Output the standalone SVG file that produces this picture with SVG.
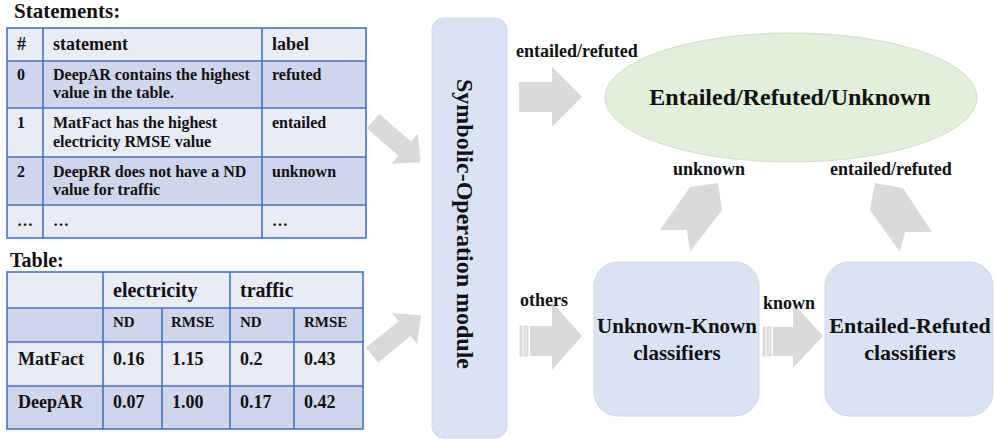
<svg xmlns="http://www.w3.org/2000/svg" width="995" height="439" viewBox="0 0 995 439">
<style>
.grid{stroke:#4472c4;stroke-width:1.6;fill:none}
.lt{fill:#e9ebf5}
.dk{fill:#cfd5ea}
.arr{fill:#d9d9d9}
.str{fill:#e4e4e4;stroke:#c4c4c4;stroke-width:0.6}
.box{fill:#dae3f3;stroke:#cfd7e6;stroke-width:1}
</style>
<g id="statements">
<text x="14" y="18" font-family="'Liberation Serif', 'Times New Roman', serif" font-weight="bold" font-size="21" fill="#111">Statements:</text>
<rect class="lt" x="7" y="28" width="359" height="33"/>
<rect class="dk" x="7" y="61" width="359" height="47"/>
<rect class="lt" x="7" y="108" width="359" height="49"/>
<rect class="dk" x="7" y="157" width="359" height="48"/>
<rect class="lt" x="7" y="205" width="359" height="33"/>
<g class="grid">
<rect x="7" y="28" width="359" height="210"/>
<path d="M7 61H366M7 108H366M7 157H366M7 205H366M43 28V238M262 28V238"/>
</g>
<g font-family="'Liberation Serif', 'Times New Roman', serif" font-weight="bold" font-size="18" fill="#111">
<text x="17" y="50">#</text>
<text x="53" y="50">statement</text>
<text x="272" y="50">label</text>
</g>
<g font-family="'Liberation Serif', 'Times New Roman', serif" font-weight="bold" font-size="16" fill="#111">
<text x="17" y="80">0</text>
<text x="53" y="80">DeepAR contains the highest</text>
<text x="53" y="98">value in the table.</text>
<text x="272" y="80">refuted</text>
<text x="17" y="128">1</text>
<text x="53" y="128">MatFact has the highest</text>
<text x="53" y="147">electricity RMSE value</text>
<text x="272" y="128">entailed</text>
<text x="17" y="177">2</text>
<text x="53" y="177">DeepRR does not have a ND</text>
<text x="53" y="195">value for traffic</text>
<text x="272" y="177">unknown</text>
<text x="17" y="226">…</text>
<text x="53" y="226">…</text>
<text x="272" y="226">…</text>
</g>
</g>

<g id="data-table">
<text x="10" y="267" font-family="'Liberation Serif', 'Times New Roman', serif" font-weight="bold" font-size="20" fill="#111">Table:</text>
<rect class="lt" x="7" y="272" width="356" height="36"/>
<rect class="dk" x="7" y="308" width="356" height="34"/>
<rect class="lt" x="7" y="342" width="356" height="44"/>
<rect class="dk" x="7" y="386" width="356" height="43"/>
<g class="grid">
<rect x="7" y="272" width="356" height="157"/>
<path d="M7 308H363M7 342H363M7 386H363M103 272V429M230 272V429M162 308V429M294 308V429"/>
</g>
<g font-family="'Liberation Serif', 'Times New Roman', serif" font-weight="bold" font-size="20" fill="#111">
<text x="113" y="297">electricity</text>
<text x="240" y="297">traffic</text>
</g>
<g font-family="'Liberation Serif', 'Times New Roman', serif" font-weight="bold" font-size="15" fill="#111">
<text x="113" y="327">ND</text>
<text x="171" y="327">RMSE</text>
<text x="240" y="327">ND</text>
<text x="304" y="327">RMSE</text>
</g>
<g font-family="'Liberation Serif', 'Times New Roman', serif" font-weight="bold" font-size="18" fill="#111">
<text x="18" y="365">MatFact</text>
<text x="113" y="365">0.16</text>
<text x="172" y="365">1.15</text>
<text x="240" y="365">0.2</text>
<text x="304" y="365">0.43</text>
<text x="18" y="408">DeepAR</text>
<text x="113" y="408">0.07</text>
<text x="172" y="408">1.00</text>
<text x="240" y="408">0.17</text>
<text x="304" y="408">0.42</text>
</g>
</g>

<g id="symbolic-module">
<rect class="box" x="432" y="18" width="75" height="420" rx="12"/>
<text text-anchor="middle" transform="translate(457,224) rotate(90)" font-family="'Liberation Serif', 'Times New Roman', serif" font-weight="bold" font-size="24" fill="#111">Symbolic-Operation module</text>
</g>

<g id="result">
<ellipse cx="791" cy="97.5" rx="186" ry="64.5" fill="#e2efda" stroke="#d3dccb" stroke-width="1"/>
<text text-anchor="middle" x="790" y="105" font-family="'Liberation Serif', 'Times New Roman', serif" font-weight="bold" font-size="24" fill="#111">Entailed/Refuted/Unknown</text>
</g>

<g id="unknown-known">
<rect class="box" x="594" y="262" width="165" height="154" rx="24"/>
<g font-family="'Liberation Serif', 'Times New Roman', serif" font-weight="bold" font-size="21" fill="#111" text-anchor="middle">
<text x="677" y="333">Unknown-Known</text>
<text x="677" y="360">classifiers</text>
</g>
</g>

<g id="entailed-refuted">
<rect class="box" x="825" y="262" width="168" height="154" rx="24"/>
<g font-family="'Liberation Serif', 'Times New Roman', serif" font-weight="bold" font-size="22" fill="#111" text-anchor="middle">
<text x="910" y="333">Entailed-Refuted</text>
<text x="910" y="360">classifiers</text>
</g>
</g>

<g id="connectors">
<polygon class="arr" transform="translate(373,121) rotate(41)" points="0,-9.5 42,-9.5 42,-20 63,0 42,20 42,9.5 0,9.5"/>
<polygon class="arr" transform="translate(372,355) rotate(-39)" points="0,-9.5 42,-9.5 42,-20 63,0 42,20 42,9.5 0,9.5"/>
<polygon class="arr" points="519,82 552,82 552,67 582,97 552,127 552,112 519,112"/>
<rect class="str" x="520" y="326" width="2" height="30"/>
<rect class="str" x="524" y="326" width="4" height="30"/>
<polygon class="arr" points="530,326 552,326 552,302 582,336 552,370 552,356 530,356"/>
<rect class="str" x="763" y="327" width="2" height="29"/>
<rect class="str" x="767" y="327" width="4" height="29"/>
<polygon class="arr" points="773,327 793,327 793,303 823,336 793,368 793,356 773,356"/>
<polygon class="arr" points="690,187 718,183 722,210 690,252 687,230 660,230"/>
<polygon class="arr" points="875,183 903,188 932,232 905,232 900,252 870,210"/>
<g font-family="'Liberation Serif', 'Times New Roman', serif" font-weight="bold" font-size="18" fill="#111">
<text x="516" y="57">entailed/refuted</text>
<text x="520" y="306">others</text>
<text x="763" y="309">known</text>
<text x="673" y="175">unknown</text>
<text x="830" y="175">entailed/refuted</text>
</g>
</g>
</svg>
